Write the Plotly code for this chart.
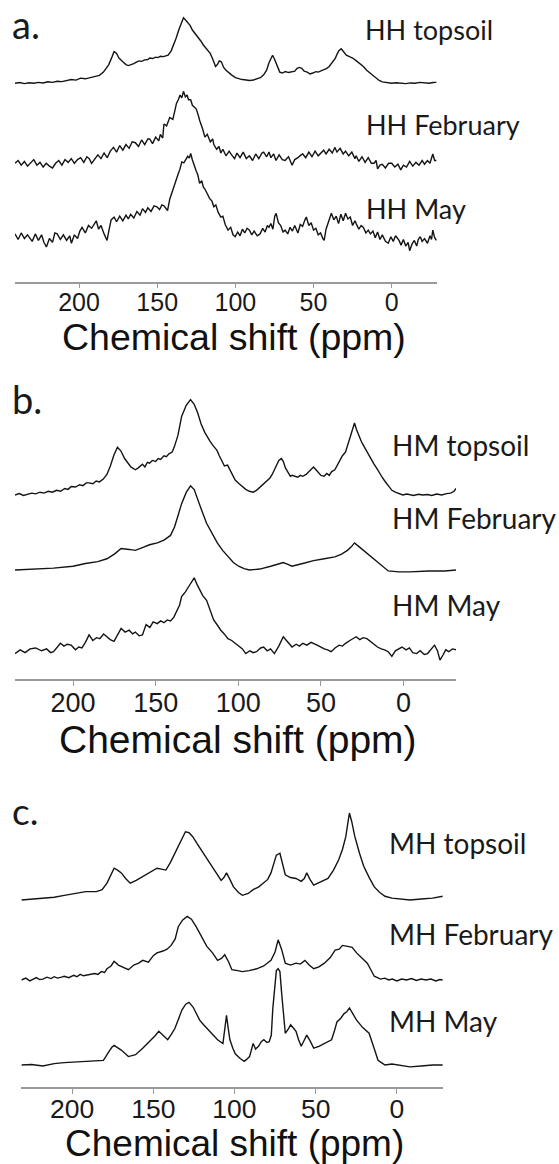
import plotly.graph_objects as go

W, H = 559, 1164

# ---------------- data (ppm, relative intensity) ----------------
HH_TOP_PPM = [241, 238, 235, 232, 229, 226, 223, 220, 217, 214, 211, 208, 205, 202, 199, 196, 193, 190, 187, 184.4,
              182.5, 181, 179, 177.6, 176, 174.5, 172, 170, 168.5, 166.5, 165, 163, 161.7, 160, 158, 156, 154.8, 153, 151, 149.5,
              148, 146, 144.5, 143, 141, 139.5, 138, 136, 134.5, 133.2, 132, 130.5, 129, 127.5, 126, 125, 123.5, 122, 120.5, 119,
              117.5, 116.1, 114.5, 112.7, 111.5, 110.3, 109, 107.5, 106, 104.7, 102.5, 100, 98, 95.6, 93, 91, 88.5, 86, 84, 81.9,
              80, 78.5, 77, 76.2, 75, 73.5, 72.5, 71.6, 70, 68, 66, 64, 62, 60.5, 59.1, 57.5, 56, 54, 52.3, 50.5,
              48.5, 47, 45, 43.2, 41.5, 40, 38.5, 37.5, 36, 35, 33.8, 32.3, 31, 30, 29, 27, 25, 23, 21, 19.5,
              18.1, 16, 14, 12, 10, 8, 6, 4, 2, 0, -3, -6, -9, -12, -15, -18, -21, -24, -26.5, -28.6]
HH_TOP_I = [0, 0.8, -0.3, 0.6, 0, 1, 0.4, 1.6, 1, 2.2, 1.8, 3, 4, 3.4, 5.5, 4.8, 6, 7, 8.5, 12,
            16, 20, 28, 34, 32, 27, 23, 20, 19, 20, 21, 23, 24, 23.5, 25, 25.5, 27, 26.5, 28, 27.5,
            29, 28.5, 29, 30, 35, 41, 48, 58, 65, 70, 68, 65, 62, 57, 54, 51, 48, 45, 41, 38,
            35, 32, 26, 18, 20, 24, 23, 17, 14, 12, 9, 6, 5, 4, 3.5, 3, 3.5, 5, 6, 9,
            14, 22, 28, 30, 26, 20, 15, 12, 11, 12.5, 11.5, 12, 13, 16, 17, 16, 13, 12, 10, 11,
            12.5, 12, 13.5, 14, 16, 18, 21, 23, 27, 31, 35, 37, 34, 31, 30, 28.5, 27, 24.5, 22, 20,
            18, 14, 11, 8, 5, 3, 1.5, 1, 0.3, 0, 0.6, 0.2, -0.3, 0.4, 0, 1, 0.2, 0, 0.8, 1]

HH_FEB_PPM = [241, 239, 237, 235, 233, 231, 229, 227, 225, 223, 221, 219, 217, 215, 213, 211, 209, 207, 205, 203,
              201, 199, 197, 195, 193.5, 192, 190, 188, 186, 184, 182, 180, 178, 176, 174, 172, 170, 168, 166, 164,
              162, 160, 158, 156, 154.8, 153, 151, 149, 148, 146.5, 145.7, 144, 142, 140, 138.5, 137.7, 136.5, 135.4, 134.3, 133.2,
              132, 130.9, 130, 128.6, 127.5, 126.3, 125, 123.5, 122.9, 121, 119.5, 118, 116, 114.5, 113.8, 112, 110.5, 109.3, 108, 106,
              104, 102.4, 100.5, 99, 97, 95, 93, 91, 89, 87, 85, 83, 81.9, 80, 78.5, 77.3, 75.5, 74, 72, 70,
              68.2, 66, 64.5, 63.7, 62, 60, 58, 56.9, 55, 53, 51, 49, 47, 45.4, 43.5, 42, 40, 38, 36.4, 35,
              33, 31, 29.5, 27.5, 25.5, 23.5, 22.7, 21, 19, 17, 15, 13, 11.3, 10, 9, 7.5, 6, 4, 2, 0,
              -2, -4, -5.8, -7.5, -9.5, -11.5, -13.5, -15.5, -17.5, -19.5, -21, -22.9, -24.5, -26.3, -27.5, -28.6]
HH_FEB_I = [0, 3, -2, 2, -3, 0, 4, -2, 1, -4, 0, -3, -5, 0, 3, -2, 4, 1, 5, 0,
            4, 6, 1, 7, 5, 0, 4, 9, 5, 11, 6, 13, 17, 12, 19, 14, 20, 16, 23, 22,
            18, 25, 20, 26, 26, 21, 28, 24, 31, 27, 42, 40, 49, 47, 58, 64, 68, 73, 70, 77,
            71, 73, 68, 68, 62, 60, 58, 50, 46, 37, 28, 31, 23, 26, 20, 15, 18, 11, 15, 8,
            13, 9, 5, 11, 6, 12, 5, 8, 3, 10, 5, 11, 12, 7, 12, 6, 10, 3, 9, 4,
            3, 7, 0, -2, 4, 6, 9, 10, 6, 12, 7, 13, 8, 11, 14, 10, 15, 11, 17, 12,
            16, 10, 13, 8, 12, 5, 8, 2, 7, 1, 6, 0, 0, 3, -6, -2, -1, -5, 0, 0,
            -4, -1, -7, -2, -4, 2, -3, 1, -2, 3, -1, 3, 0, 10, 3, 3]

HH_MAY_PPM = [241, 239, 237, 235, 233, 232, 230, 228, 226, 224, 222.5, 220.9, 219, 217, 215.5, 214, 212, 210, 208, 206,
              204.9, 203, 201, 199.5, 198.1, 196, 194, 192, 190, 189, 187.5, 186, 184, 182.1, 181, 179.5, 177.6, 176, 174, 172,
              170, 168.5, 167, 165, 163, 161, 159.4, 157.5, 156, 154, 152, 150.2, 148.5, 147, 145.7, 144.5, 143.4, 142, 140.5, 138.9,
              137.5, 136.6, 135.5, 134.3, 133, 132, 130.5, 129.5, 128.6, 127.5, 126.3, 125, 124, 122.9, 121.5, 120.5, 119.5, 118, 116.5, 115,
              113.8, 112.5, 111, 109.3, 108, 106.5, 104.7, 103, 101.5, 100.1, 98.5, 97, 95.5, 94, 92.5, 91, 89.5, 88, 86, 84.2,
              82.5, 81, 79.5, 78.5, 77.3, 76, 74.8, 73.9, 72.5, 71, 69.5, 68.2, 66.5, 65, 63.5, 62, 61.4, 60, 58.5, 57,
              55.5, 54.6, 53, 51.5, 50, 48.5, 47, 45.5, 44, 43.2, 42, 40.5, 39.5, 38.6, 37, 35.5, 34, 32.5, 31, 29.5,
              28, 26.5, 25, 23.5, 22.7, 21, 19.5, 18.1, 16.5, 15, 13.6, 12, 10.5, 9, 7.5, 6, 4, 2.2, 0.5, -1,
              -2.5, -4.7, -6, -7.5, -9, -10.5, -11.5, -13, -14.5, -16, -17, -18.3, -19.5, -21, -22.9, -24.5, -25.5, -26.3, -27.5, -28.6]
HH_MAY_I = [3, -3, 4, -2, 2, 0, -5, 3, -4, 2, -6, -11, -2, -6, 4, 3, -3, 2, -4, 1,
            -7, 2, -2, 6, 10, 4, 12, 9, 14, 17, 8, 12, 3, -4, 6, 18, 21, 16, 22, 17,
            23, 19, 24, 20, 27, 23, 30, 26, 31, 27, 33, 32, 29, 34, 33, 30, 28, 40, 48, 57,
            62, 67, 72, 80, 79, 82, 86, 84, 89, 82, 75, 70, 66, 57, 60, 53, 51, 46, 41, 38,
            32, 34, 26, 21, 22, 13, 7, 10, 2, 0, 5, 1, 8, 4, 9, 7, 2, 6, 1, 3,
            9, 5, 12, 10, 14, 8, 22, 25, 15, 12, 5, 7, 3, 10, 6, 12, 10, 4, 13, 11,
            18, 21, 12, 15, 7, 9, 2, 4, -2, -4, 8, 15, 20, 25, 18, 22, 14, 24, 17, 25,
            19, 21, 12, 17, 14, 8, 12, 10, 4, 7, 3, 6, -1, 5, -3, 2, -5, -7, 0, -5,
            1, -4, -9, -3, -10, -6, -15, -8, -4, -10, -3, 0, -5, -2, -7, 1, -3, 7, -1, -4]

HM_TOP_PPM = [235.1, 232.5, 230, 227.5, 225, 222.6, 220, 217.5, 215, 212.5, 210, 207.5, 205, 203, 201.1, 198.5, 196, 194, 192, 190.3,
              188, 186, 184, 181.7, 179.5, 177.4, 175.2, 173.1, 171, 168.8, 166.5, 165, 162.3, 160.5, 158, 156.5, 155, 153.7, 152, 150,
              148.5, 147, 145, 143.5, 142, 140, 138.6, 136.5, 134.3, 131.5, 128.9, 126.7, 124.6, 122.5, 120.3, 118.5, 117, 114.9, 113, 111.5,
              110, 108.4, 106.5, 105.2, 103.5, 101.9, 99.5, 97.5, 95.5, 93.3, 91, 89, 86.5, 84.7, 82.5, 81, 79.5, 78.2, 76.5, 75.5,
              74, 72.8, 71.5, 70, 68.5, 67.5, 66, 64, 62.5, 61, 59, 57.5, 56, 54.5, 53, 51.5, 50, 48.1, 46.5, 45,
              43.5, 41.6, 40, 38.5, 37, 35.1, 34, 32.5, 31, 29.7, 28.5, 27, 25.5, 24.3, 22.5, 21, 19.5, 17.9, 16, 14.5,
              13, 11.4, 9.5, 7.1, 5, 3, 0.5, -2, -3.7, -6, -9, -11.5, -14.5, -17, -20, -23, -26, -28.5, -30.5, -31.7]
HM_TOP_I = [0, 1.5, -0.5, 1, 2, 1.2, 3, 2, 4, 3, 5, 4, 7, 6, 9, 8.5, 11, 10, 13, 13,
            12, 15, 14, 17, 22, 31, 43, 51, 47, 39, 33, 30, 27, 29, 33, 30, 35, 34, 37, 36,
            39, 38, 42, 41, 44, 46, 52, 64, 84, 96, 102, 97, 88, 76, 67, 61, 57, 52, 48, 42,
            37, 31, 32, 27, 21, 16, 12, 9, 6, 4, 3, 5, 9, 11, 15, 18, 22, 27, 33, 37,
            39, 36, 29, 24, 20, 21, 20, 19, 21, 20, 22, 25, 28, 30, 27, 24, 21, 20, 23, 21,
            25, 27, 32, 36, 42, 46, 52, 60, 70, 77, 70, 63, 57, 53, 47, 42, 38, 33, 28, 23,
            19, 15, 10, 5, 3, 1.5, 0, 1, 0, -0.5, 0.8, 0, 0.5, -0.5, 1, 0, 1.5, 2, 4, 7]

HM_FEB_PPM = [235.1, 225, 211.8, 200, 192.5, 185, 179.5, 175, 170.9, 166, 162.3, 158, 153.7, 149, 145, 141, 138.6, 136.5, 134.3, 131.5,
              128.9, 126.7, 124.6, 122, 119.2, 116, 112.7, 109.5, 106.3, 103, 99.8, 96.5, 93.3, 87, 80.4, 76, 72.8, 70, 67.5, 61,
              54.5, 48, 41.6, 37.5, 34, 31.5, 29.7, 27, 24.3, 21, 17.9, 13.5, 9.3, 3, -3.7, -15, -25, -31.7]
HM_FEB_I = [0, 1, 2, 4, 7, 9, 12, 17, 23, 22, 21, 24, 27, 29, 32, 37, 46, 58, 71, 83,
            90, 86, 75, 63, 50, 39, 29, 21, 14, 8, 4, 1.5, 0, 1, 4, 6, 8, 6, 4, 7,
            10, 12, 14, 17, 21, 25, 29, 25, 21, 16, 11, 5, -1, -2, -2, -1, -1, 0]

HM_MAY_PPM = [235.1, 232, 229, 226, 222.6, 219, 216, 213.5, 211.8, 209.5, 207.6, 205.5, 203.5, 201.1, 198.5, 196.5, 194.6, 192.5, 190.3, 188,
              185.8, 183.8, 181.5, 179.5, 177.5, 175.2, 173, 170.9, 168.5, 166, 164, 162.3, 160, 158, 155.8, 153.5, 151.5, 149, 147, 145,
              143, 141, 139, 137, 135.5, 134.3, 132, 129.9, 128.2, 126.7, 125, 123.5, 121.5, 119.2, 117, 114.9, 112.5, 110.6, 108.5, 106.3,
              104, 101.9, 99.5, 97.5, 95.5, 93, 91, 89, 86.5, 84.7, 82.5, 80.5, 78.2, 75.5, 72.8, 70, 67.5, 65, 63, 61,
              58.5, 56, 54, 52.3, 50, 48, 46, 43.8, 41.5, 39, 37, 35.1, 32.5, 30.5, 28.7, 26.5, 24.5, 22.2, 20, 18,
              15.8, 13.5, 11.5, 9.3, 7.1, 5, 3, 1, -1.5, -3.5, -5.5, -7.9, -10, -12.5, -14.5, -16.5, -18.7, -20.5, -22, -24, -25.5, -27.4, -29.5, -31.7]
HM_MAY_I = [-2, 2, -1, 3, 4, 1, 3, -1, 0, 5, 9, 6, 8, 7, 2, 5, 4, 10, 18, 12,
            15, 14, 19, 16, 13, 11, 18, 25, 21, 23, 19, 21, 17, 18, 29, 26, 32, 30, 33, 31,
            34, 33, 37, 45, 50, 59, 64, 70, 75, 79, 72, 66, 60, 55, 45, 34, 28, 23, 19, 14,
            12, 9, 5, 3, -2, 1, -1, 0, 4, 5, 1, 3, -2, 6, 16, 10, 5, 8, 6, 9,
            7, 10, 8, 7, 5, 3, 2, 0, 4, 7, 6, 9, 12, 14, 16, 13, 15, 14, 11, 8,
            5, 3, 2, 0, -5, 1, 3, 5, 2, 4, -1, -2, 1, -3, -2, 2, 7, 1, -9, -3, 2, 0, 3, 2]

MH_TOP_PPM = [231.2, 225, 218, 211, 204.8, 198, 191.6, 185, 181.5, 178.5, 176, 174.1, 172, 169.7, 167, 164.2, 160.5, 156.5, 152, 147.7,
              145, 142.2, 139.5, 136.8, 133.5, 130.2, 128, 125.8, 122.5, 119.2, 116, 112.6, 110, 108.2, 106.5, 104.9, 102.8, 100.6, 97.5, 95.1,
              91.5, 88.5, 85, 81.9, 79.5, 77.5, 75.8, 74.2, 72, 70.5, 68.7, 65.5, 62.1, 58.9, 57, 55.5, 53.5, 51.2, 47, 42.4,
              39, 35.8, 33.5, 31.4, 30.2, 29.2, 27.8, 25.9, 23, 20.4, 17, 13.9, 10.5, 7.3, 3, -2, -8.1, -15, -22, -28.3]
MH_TOP_I = [0, 1, 2, 3, 5, 7, 9, 9, 11, 18, 27, 34, 32, 29, 23, 18, 21, 25, 30, 34,
            33, 32, 40, 50, 62, 73, 72, 68, 59, 50, 41, 32, 25, 21, 24, 29, 22, 14, 8, 5,
            7, 11, 14, 18, 22, 29, 40, 48, 50, 40, 27, 24, 23, 20, 23, 29, 22, 16, 19, 23,
            32, 43, 54, 68, 82, 93, 84, 68, 50, 36, 24, 14, 8, 4, 2, 1, 0, 1, 2, 4]

MH_FEB_PPM = [231.2, 228.5, 226, 224, 222, 220, 218, 215.5, 213, 211, 209, 206.5, 204.8, 202, 199, 197, 195, 193, 191.6, 189,
              186, 184, 182, 180, 178.5, 176, 174.1, 171.5, 168, 165.3, 162, 159, 156.5, 153, 150, 147.7, 144, 141.5, 139, 136.5,
              134.6, 132, 129.1, 126.5, 123.6, 120, 117, 113.5, 110.4, 108, 106, 103.5, 101.6, 98, 95.1, 91, 86.3, 82, 77.5, 75,
              73.1, 71, 68.7, 65.5, 62.1, 59.5, 56.6, 54, 51.2, 48, 44.6, 41, 38, 35.5, 33.5, 30.3, 27.5, 24.8, 21.5, 18.2,
              16, 13.9, 10, 7.5, 5, 2.8, 0, -3, -6, -9, -12, -15, -18, -21, -24, -26.5, -28.3]
MH_FEB_I = [0, 2, -1, 1, 2.5, 0.5, 1, 3, 1.5, 3.5, 2, 3, 4, 2.5, 5, 3.5, 6, 4.5, 5, 6.5,
            7, 6, 9, 8, 12, 15, 20, 16, 13, 11, 16, 18, 21, 19, 26, 29, 31, 33, 37, 44,
            57, 64, 68, 65, 57, 45, 36, 29, 21, 23, 27, 19, 11, 10, 9, 10, 12, 15, 21, 30,
            43, 33, 18, 16, 18, 17, 21, 16, 12, 14, 18, 24, 32, 33, 37, 36, 35, 29, 24, 18,
            11, 4, 1, 2, 0, 1, -1, 1, 0, 1.5, -0.5, 1, 0, 1, -1, 0.5, 0]

MH_MAY_PPM = [231.2, 225, 218, 211, 204.8, 198, 191.6, 186, 180.7, 177.4, 175.5, 174.1, 172, 169.7, 165.3, 160.9, 156.5, 152.1, 149, 146.6,
              144, 141.1, 138.8, 136.7, 134.5, 132.3, 130, 128, 125.5, 123.5, 121.4, 119, 117, 113.5, 110.4, 107.1, 105.8, 104.9, 103.9, 102.8,
              101, 99.5, 96.5, 94, 92.5, 90.7, 88.5, 87, 85.2, 83.5, 81.9, 80, 78.6, 77.3, 76.4, 75.2, 74.2, 73.1, 72, 71, 69.8,
              68.7, 67, 65.4, 63.5, 62.1, 60.5, 58.9, 57.2, 55.5, 53.5, 51.2, 48, 44.6, 42.4, 40.2, 38.5, 36.9, 34.5, 32.5, 30.8, 29.2, 27.5,
              24.8, 21, 17.1, 14, 11.6, 9, 7.3, 3, -2, -8.1, -15, -22, -28.3]
MH_MAY_I = [0, 0.5, -1, 1.5, 2.5, 3, 3.5, 4, 5, 14, 19, 21, 19, 16, 9, 11, 18, 25, 31, 36,
            32, 27, 33, 39, 49, 59, 65, 67, 62, 55, 48, 43, 39, 33, 27, 23, 38, 53, 40, 27,
            18, 12, 7, 4, 6, 9, 23, 17, 20, 25, 27, 24, 25, 32, 60, 88, 101, 103, 100, 78, 50,
            34, 38, 43, 39, 36, 27, 20, 26, 32, 26, 18, 20, 23, 25, 27, 36, 46, 50, 55, 57, 61, 56,
            48, 40, 34, 18, 5, 2, 0, 1, 0, -2, -1, 0, 0]

TICK_VALS = [200, 150, 100, 50, 0]
TICK_TEXT = ["200", "150", "100", "50", "0"]
AXIS_TITLE = "Chemical shift (ppm)"

# ---------------- layout helpers ----------------
PX_PER_UNIT = 0.935   # screen pixels per intensity unit


def py(px):
    return 1 - px / H


def px_x(px):
    return px / W


# panel geometry (pixels) and text sizes
PANELS = [
    dict(xl=15, xr=437, pl=241, pr=-29, ay=281.7, ty=0, tfs=25, tso=-7, hfs=37.5, hx=234, hy=336.5),
    dict(xl=15, xr=456, pl=235.1, pr=-31.7, ay=679.3, ty=368, tfs=27, tso=-6, hfs=39, hx=238, hy=739),
    dict(xl=21.4, xr=442.8, pl=231.2, pr=-28.3, ay=1087.3, ty=775, tfs=26.5, tso=-8, hfs=37, hx=234, hy=1143),
]

SERIES = [
    # (panel, ppm, intensity, baseline y in px)
    (0, HH_TOP_PPM, HH_TOP_I, 83.3),
    (0, HH_FEB_PPM, HH_FEB_I, 163.3),
    (0, HH_MAY_PPM, HH_MAY_I, 236.7),
    (1, HM_TOP_PPM, HM_TOP_I, 495),
    (1, HM_FEB_PPM, HM_FEB_I, 570),
    (1, HM_MAY_PPM, HM_MAY_I, 651.7),
    (2, MH_TOP_PPM, MH_TOP_I, 900),
    (2, MH_FEB_PPM, MH_FEB_I, 980),
    (2, MH_MAY_PPM, MH_MAY_I, 1065),
]

fig = go.Figure()
for p, xs, ys, base in SERIES:
    sfx = "" if p == 0 else str(p + 1)
    off = (PANELS[p]["ay"] - base) / PX_PER_UNIT
    fig.add_trace(go.Scatter(
        x=xs, y=[v + off for v in ys], mode="lines",
        line=dict(color="#141414", width=1.4),
        xaxis="x" + sfx, yaxis="y" + sfx, showlegend=False, hoverinfo="skip"))

layout = dict(width=W, height=H, margin=dict(l=0, r=0, t=0, b=0),
              paper_bgcolor="white", plot_bgcolor="white", showlegend=False)
for i, P in enumerate(PANELS):
    sfx = "" if i == 0 else str(i + 1)
    layout["xaxis" + sfx] = dict(
        domain=[px_x(P["xl"]), px_x(P["xr"])], range=[P["pl"], P["pr"]], anchor="y" + sfx,
        showline=True, linecolor="#9a9a9a", linewidth=1.5,
        ticks="outside", ticklen=5, tickwidth=1.2, tickcolor="#9a9a9a",
        tickvals=TICK_VALS, ticktext=TICK_TEXT, ticklabelstandoff=P["tso"],
        tickfont=dict(family="Liberation Sans, Arial", size=P["tfs"], color="#1a1a1a"),
        showgrid=False, zeroline=False)
    layout["yaxis" + sfx] = dict(
        domain=[py(P["ay"]), py(P["ty"])], range=[0, (P["ay"] - P["ty"]) / PX_PER_UNIT],
        anchor="x" + sfx, visible=False, showgrid=False, zeroline=False)
fig.update_layout(**layout)

for P in PANELS:
    fig.add_annotation(text=AXIS_TITLE, xref="paper", yref="paper",
                       x=px_x(P["hx"]), y=py(P["hy"]), xanchor="center", yanchor="middle",
                       showarrow=False,
                       font=dict(family="Liberation Sans, Arial", size=P["hfs"], color="#111"))

LABELS = [
    ("HH topsoil", 363, 29.6, 27), ("HH February", 363.6, 125, 27), ("HH May", 363.6, 208.3, 27),
    ("HM topsoil", 390, 444.5, 28), ("HM February", 390, 517.8, 28), ("HM May", 390, 604.5, 28),
    ("MH topsoil", 387, 842.5, 28), ("MH February", 387, 934, 28), ("MH May", 387, 1021.3, 28),
]
for t, x, y, s in LABELS:
    fig.add_annotation(text=t, xref="paper", yref="paper", x=px_x(x), y=py(y),
                       xanchor="left", yanchor="middle", showarrow=False,
                       font=dict(family="Lato", size=s, color="#1a1a1a"))

LETTERS = [("a.", 10, 24.3, 38), ("b.", 10, 398.6, 38), ("c.", 10, 810, 37)]
for t, x, y, s in LETTERS:
    fig.add_annotation(text=t, xref="paper", yref="paper", x=px_x(x), y=py(y),
                       xanchor="left", yanchor="middle", showarrow=False,
                       font=dict(family="Lato", size=s, color="#1a1a1a"))

fig.write_html("out.html")
